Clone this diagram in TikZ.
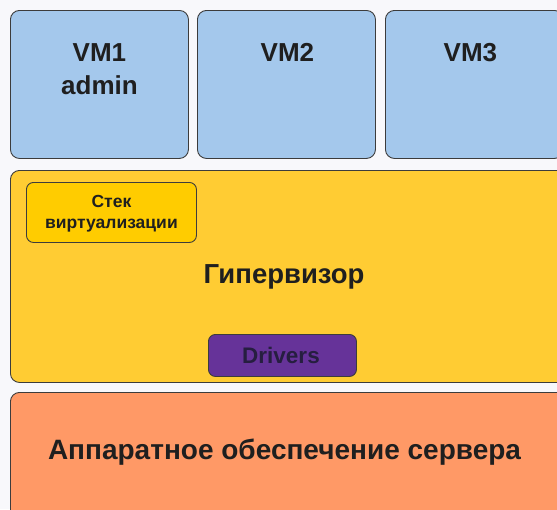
\documentclass[tikz,border=0pt]{standalone}
\usepackage{fontspec}
\setmainfont{Liberation Sans}
\usetikzlibrary{positioning}
\definecolor{bgcol}{RGB}{248,248,251}
\definecolor{vmblue}{RGB}{164,200,236}
\definecolor{hypyellow}{RGB}{255,204,51}
\definecolor{stackyellow}{RGB}{255,204,0}
\definecolor{drvpurple}{RGB}{102,51,153}
\definecolor{drvtextcol}{RGB}{38,30,64}
\definecolor{hworange}{RGB}{255,153,102}
\definecolor{edge}{RGB}{60,60,60}
\tikzset{
    layer/.style={draw=edge, line width=0.9pt, rounded corners=9pt, anchor=north west, inner sep=0pt},
    vmbox/.style={layer, fill=vmblue, minimum width=178pt, minimum height=148pt},
    bigtext/.style={font=\bfseries\fontsize{26}{33}\selectfont, text=black!88, align=center, inner sep=0pt},
    smalltext/.style={font=\bfseries\fontsize{17.5}{21}\selectfont, text=black!88, align=center, inner sep=0pt}
}
\begin{document}
\begin{tikzpicture}[x=1pt,y=-1pt]
        \useasboundingbox (0,0) rectangle (557,509);
        \clip (0,0) rectangle (557,509);
        \fill[bgcol] (0,0) rectangle (557,509);

        % virtual machines
        \node[vmbox] (vm1) at (10,10) {};
        \node[vmbox] (vm2) at (197,10) {};
        \node[vmbox] (vm3) at (385,10) {};
        \node[bigtext, below=33pt of vm1.north] (vm1text) {VM1\\admin};
        \node[bigtext, below=33pt of vm2.north, xshift=1pt] (vm2text) {VM2};
        \node[bigtext, below=33pt of vm3.north, xshift=-4pt] (vm3text) {VM3};

        % hypervisor
        \node[layer, fill=hypyellow, minimum width=565pt, minimum height=212pt] (hyp) at (10,170) {};
        \node[layer, fill=stackyellow, rounded corners=7pt, minimum width=170pt, minimum height=60pt] (stack) at (26,182) {};
        \node[smalltext, below=13pt of stack.north] (stacktext) {Стек\\виртуализации};
        \node[bigtext, font=\bfseries\fontsize{27.5}{31}\selectfont, anchor=base] (hyptext) at (284,283) {Гипервизор};
        \node[layer, fill=drvpurple, rounded corners=7pt, minimum width=148pt, minimum height=42pt] (drv) at (208,334) {};
        \node[bigtext, font=\bfseries\fontsize{22.5}{26}\selectfont, text=drvtextcol, anchor=base] (drvtext) at (281,363) {Drivers};

        % hardware
        \node[layer, fill=hworange, minimum width=565pt, minimum height=130pt] (hw) at (10,392) {};
        \node[bigtext, font=\bfseries\fontsize{28}{32}\selectfont, anchor=base] (hwtext) at (284.5,459) {Аппаратное обеспечение сервера};
    \end{tikzpicture}
\end{document}
